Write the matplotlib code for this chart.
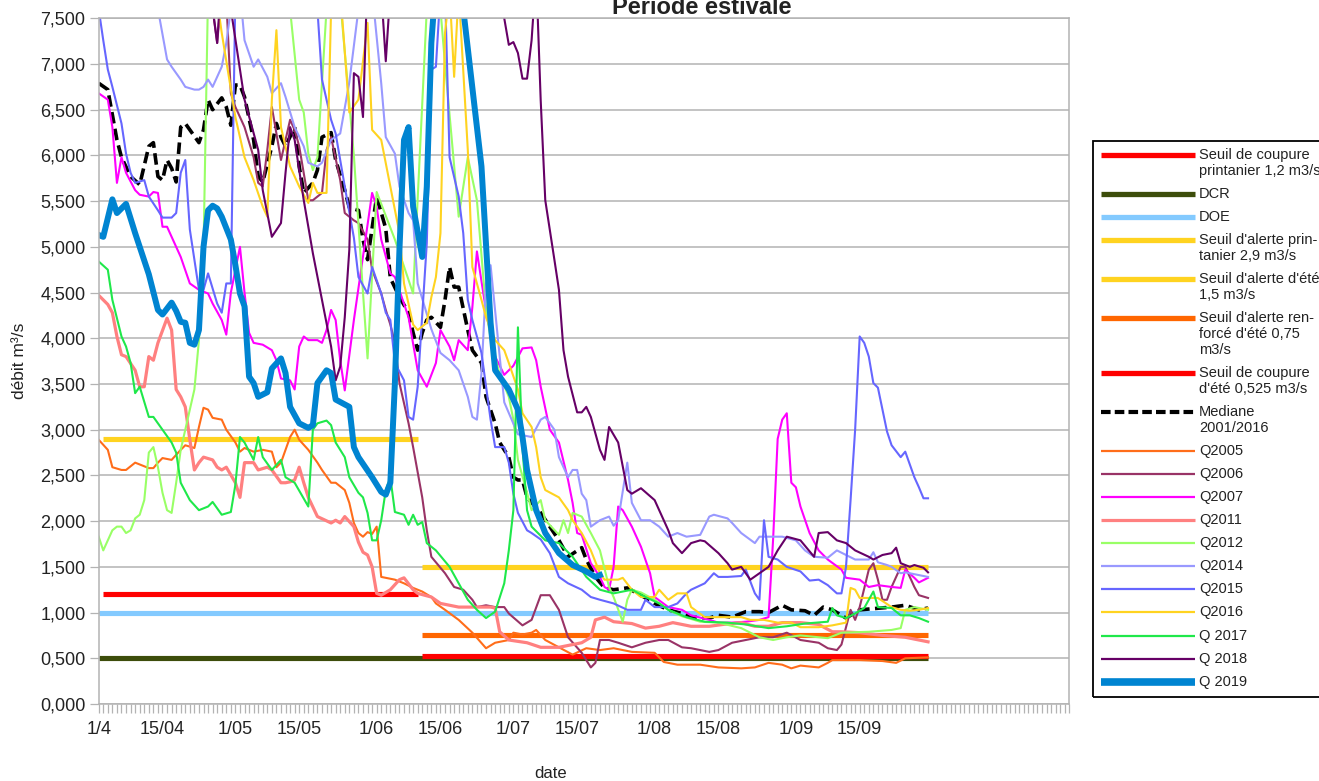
import matplotlib
matplotlib.use("Agg")
import matplotlib.pyplot as plt
from matplotlib.lines import Line2D
from matplotlib.patches import Rectangle

plt.rcParams['font.family'] = ['Liberation Sans', 'DejaVu Sans']

# ---------------- data (day index from 1 April, value in m3/s) ----------------
tick_days = [0, 14, 30, 44, 61, 75, 91, 105, 122, 136, 153, 167]
tick_labels = ['1/4', '15/04', '1/05', '15/05', '1/06', '15/06', '1/07', '15/07',
               '1/08', '15/08', '1/09', '15/09']
y_ticks = [0, 0.5, 1.0, 1.5, 2.0, 2.5, 3.0, 3.5, 4.0, 4.5, 5.0, 5.5, 6.0, 6.5, 7.0, 7.5]

thr_labels = [["Seuil de coupure", "printanier 1,2 m3/s"], ["DCR"], ["DOE"],
              ["Seuil d'alerte prin-", "tanier 2,9 m3/s"], ["Seuil d'alerte d'été", "1,5 m3/s"],
              ["Seuil d'alerte ren-", "forcé d'été 0,75", "m3/s"],
              ["Seuil de coupure", "d'été 0,525 m3/s"]]
thr_values = [1.2, 0.5, 1.0, 2.9, 1.5, 0.75, 0.525]
thr_start = [1, 0, 0, 1, 71, 71, 71]
thr_end = [70, 182, 182, 70, 182, 182, 182]

mediane = [(0,6.79),(2,6.72),(4,6.17),(5,5.98),(7,5.77),(9,5.68),(11,6.10),(12,6.14),(13,5.77),(14,5.73),
           (15,5.95),(16,5.86),(17,5.71),(18,6.31),(19,6.35),(22,6.14),(23,6.28),(24,6.61),(25,6.50),(27,6.63),
           (28,6.53),(29,6.33),(30,6.77),(31,6.77),(32,6.64),(34,6.17),(35,5.77),(36,5.71),(38,6.10),(39,6.35),
           (40,6.20),(41,6.10),(43,6.31),(44,5.88),(45,5.59),(47,5.70),(48,5.84),(49,6.20),(51,6.25),(52,5.95),
           (54,5.62),(55,5.43),(57,5.40),(58,5.08),(59,4.86),(61,5.55),(63,5.20),(64,4.66),(66,4.45),(68,4.28),
           (69,4.06),(70,3.87),(71,4.06),(72,4.20),(73,4.23),(75,4.12),(76,4.42),(77,4.78),(78,4.56),(79,4.56),
           (81,4.09),(82,3.87),(84,3.73),(85,3.36),(87,3.07),(88,2.86),(90,2.70),(91,2.48),(92,2.45),(93,2.45),
           (94,2.26),(97,2.09),(101,1.79),(103,1.61),(106,1.71),(107,1.58),(109,1.39),(111,1.27),(113,1.25),
           (116,1.27),(119,1.19),(122,1.10),(125,1.03),(128,0.99),(130,0.95),(134,0.94),(136,0.97),(139,0.95),
           (142,1.01),(145,1.01),(147,1.00),(150,1.08),(152,1.03),(155,1.02),(157,0.97),(159,1.06),(161,1.03),
           (164,0.94),(167,1.03),(174,1.06),(177,1.08),(180,1.03),(182,1.05)]

q2005 = [(0,2.89),(2,2.78),(3,2.59),(5,2.56),(6,2.56),(8,2.64),(11,2.58),(12,2.58),(13,2.64),(14,2.69),
         (16,2.67),(18,2.78),(19,2.83),(21,2.80),(22,3.03),(23,3.24),(24,3.22),(25,3.13),(27,3.11),(28,3.00),
         (30,2.86),(31,2.76),(32,2.80),(34,2.76),(36,2.78),(38,2.76),(39,2.59),(40,2.64),(42,2.92),(43,3.00),
         (44,2.89),(46,2.78),(48,2.64),(49,2.56),(51,2.42),(52,2.42),(54,2.34),(55,2.20),(56,1.98),(57,1.87),
         (58,1.83),(59,1.88),(60,1.86),(61,1.94),(62,1.39),(65,1.36),(67,1.32),(69,1.27),(71,1.23),(73,1.17),
         (74,1.10),(76,1.03),(79,0.92),(82,0.78),(85,0.61),(87,0.67),(90,0.70),(91,0.78),(93,0.76),(95,0.78),
         (96,0.81),(98,0.70),(101,0.62),(104,0.54),(107,0.61),(110,0.59),(113,0.61),(117,0.57),(122,0.56),
         (124,0.46),(127,0.43),(132,0.43),(136,0.40),(141,0.39),(144,0.40),(147,0.45),(150,0.43),(152,0.39),
         (154,0.42),(158,0.40),(160,0.45),(161,0.48),(163,0.48),(167,0.48),(172,0.47),(175,0.45),(177,0.50),
         (182,0.51)]

q2006 = [(0,9.5),(8,11.0),(16,10.0),(22,8.5),(25,7.6),(26,7.23),(27,7.8),(28,7.7),(29,6.68),(30,6.53),
         (32,6.31),(34,5.98),(35,5.70),(36,5.66),(37,6.06),(38,6.53),(39,6.24),(40,5.95),(42,6.39),(43,6.28),
         (44,6.10),(46,5.51),(47,5.51),(49,5.59),(50,6.06),(51,6.20),(53,5.73),(54,5.37),(56,5.29),(57,5.26),
         (59,5.08),(60,4.75),(62,4.49),(63,4.31),(64,4.15),(65,3.95),(66,3.51),(68,3.07),(69,2.81),(71,2.26),
         (72,1.90),(73,1.61),(76,1.43),(78,1.28),(80,1.25),(82,1.14),(83,1.06),(85,1.08),(87,1.06),(89,1.06),
         (90,0.99),(93,0.86),(95,0.92),(97,1.19),(99,1.19),(101,1.03),(103,0.73),(106,0.56),(108,0.40),
         (109,0.45),(110,0.70),(112,0.70),(114,0.67),(117,0.62),(120,0.67),(123,0.70),(125,0.70),(128,0.62),
         (130,0.61),(134,0.57),(136,0.59),(139,0.67),(142,0.70),(145,0.73),(148,0.73),(151,0.78),(154,0.70),
         (158,0.67),(160,0.61),(162,0.59),(163,0.65),(165,1.03),(166,0.92),(167,1.06),(169,1.47),(170,1.54),
         (171,1.36),(172,1.14),(173,1.14),(174,1.28),(176,1.50),(177,1.50),(179,1.28),(180,1.19),(182,1.16)]

q2007 = [(0,6.68),(2,6.61),(3,6.31),(4,5.70),(5,5.98),(6,5.81),(8,5.62),(9,5.57),(11,5.55),(12,5.60),
         (13,5.59),(14,5.22),(15,5.22),(16,5.11),(18,4.89),(20,4.60),(22,4.53),(24,4.49),(25,4.38),(27,4.20),
         (28,4.04),(29,4.50),(31,5.00),(32,4.50),(33,4.06),(34,3.95),(36,3.93),(38,3.87),(39,3.76),(40,3.56),
         (42,3.54),(43,3.44),(44,3.91),(45,4.02),(46,3.98),(48,3.98),(49,3.95),(50,4.09),(51,4.31),(52,4.20),
         (53,3.76),(54,3.43),(56,4.20),(60,5.59),(61,5.44),(62,5.08),(64,4.71),(65,4.67),(68,4.23),(70,3.65),
         (72,3.47),(74,3.73),(75,4.09),(77,3.91),(78,3.76),(79,3.98),(81,3.87),(82,4.34),(83,4.95),(85,4.30),
         (87,3.80),(89,3.60),(91,3.70),(93,3.89),(95,3.90),(96,3.76),(97,3.47),(99,3.00),(101,2.86),(103,2.45),
         (104,2.20),(105,1.87),(106,1.85),(108,1.54),(110,1.39),(111,1.28),(112,1.25),(113,1.50),(114,2.16),
         (115,2.12),(117,1.94),(119,1.72),(121,1.43),(122,1.17),(125,1.06),(128,1.03),(130,0.97),(134,0.92),
         (136,0.89),(139,0.89),(142,0.90),(145,0.92),(147,0.95),(148,1.80),(149,2.90),(150,3.11),(151,3.18),
         (152,2.42),(153,2.37),(154,2.16),(156,1.87),(158,1.68),(160,1.58),(163,1.47),(164,1.38),(167,1.36),
         (169,1.28),(171,1.30),(174,1.28),(176,1.27),(177,1.47),(179,1.38),(180,1.33),(182,1.38)]

q2011 = [(0,4.47),(2,4.37),(3,4.28),(4,4.02),(5,3.82),(6,3.80),(8,3.65),(9,3.47),(10,3.47),(11,3.80),
         (12,3.76),(13,3.95),(15,4.22),(16,4.09),(17,3.44),(18,3.36),(19,3.25),(20,2.89),(21,2.56),(22,2.64),
         (23,2.70),(25,2.67),(26,2.59),(27,2.56),(28,2.59),(30,2.42),(31,2.26),(32,2.64),(34,2.64),(35,2.56),
         (37,2.59),(38,2.56),(40,2.42),(41,2.42),(42,2.43),(43,2.45),(44,2.59),(45,2.42),(46,2.26),(48,2.05),
         (51,1.98),(52,2.01),(53,1.98),(54,2.05),(56,1.94),(57,1.77),(58,1.66),(59,1.63),(60,1.50),(61,1.21),
         (62,1.19),(64,1.25),(66,1.36),(67,1.38),(69,1.25),(70,1.21),(73,1.17),(75,1.10),(79,1.06),(82,1.06),
         (86,1.06),(87,1.05),(88,0.79),(90,0.70),(94,0.67),(97,0.62),(101,0.62),(106,0.67),(108,0.73),
         (109,0.92),(111,0.95),(113,0.90),(115,0.89),(117,0.88),(120,0.83),(123,0.85),(126,0.89),(130,0.85),
         (134,0.85),(137,0.87),(141,0.89),(144,0.85),(147,0.85),(150,0.89),(154,0.89),(158,0.87),(161,0.79),
         (163,0.79),(167,0.78),(172,0.75),(177,0.73),(180,0.70),(182,0.68)]

q2012 = [(0,1.83),(1,1.68),(3,1.90),(4,1.94),(5,1.94),(6,1.87),(7,1.90),(8,2.03),(9,2.07),(10,2.23),
         (11,2.75),(12,2.81),(13,2.59),(14,2.31),(15,2.12),(16,2.09),(17,2.42),(18,2.78),(20,3.22),(21,3.44),
         (22,3.98),(23,4.97),(24,7.8),(30,9.0),(38,8.5),(42,7.6),(44,6.61),(45,6.47),(46,6.02),(47,5.84),
         (48,5.98),(50,7.6),(53,7.7),(56,6.0),(58,4.5),(59,3.78),(61,5.60),(65,5.08),(69,4.49),(72,7.6),
         (74,8.2),(76,7.0),(79,5.33),(81,5.98),(83,5.51),(85,4.31),(86,4.0),(88,3.6),(90,3.36),(91,3.11),
         (92,2.67),(94,2.31),(95,2.12),(97,2.23),(98,2.01),(101,1.85),(102,2.01),(103,1.87),(104,2.09),
         (106,2.05),(108,1.87),(110,1.68),(112,1.28),(113,1.17),(115,0.90),(116,1.14),(117,1.25),(119,1.22),
         (122,1.14),(125,1.03),(128,0.96),(132,0.90),(136,0.89),(141,0.83),(145,0.73),(148,0.70),(151,0.73),
         (154,0.75),(158,0.73),(160,0.72),(163,0.78),(169,0.79),(174,0.81),(176,0.83),(177,1.03),(179,1.06),
         (182,1.03)]

q2014 = [(0,9.5),(5,9.0),(10,8.5),(13,7.6),(15,7.05),(16,6.97),(18,6.83),(19,6.75),(21,6.72),(22,6.72),
         (23,6.75),(24,6.83),(25,6.75),(27,6.97),(28,7.23),(29,7.6),(31,7.8),(32,7.26),(34,6.97),(35,7.05),
         (37,6.86),(38,6.68),(40,6.79),(41,6.64),(43,6.31),(45,6.10),(46,5.92),(48,5.88),(49,5.92),(51,6.17),
         (53,6.24),(55,6.8),(57,7.6),(60,7.8),(62,6.79),(63,6.20),(65,6.02),(66,5.66),(68,5.37),(69,5.29),
         (70,4.6),(73,4.1),(75,3.84),(77,3.76),(79,3.65),(81,3.36),(82,3.14),(83,3.11),(84,3.62),(85,4.60),
         (86,4.8),(89,3.3),(92,2.95),(95,2.92),(97,3.11),(98,3.14),(100,3.00),(101,2.70),(103,2.48),(104,2.56),
         (105,2.56),(106,2.30),(107,2.23),(108,1.94),(110,2.01),(112,2.05),(113,1.95),(114,2.01),(116,2.64),
         (117,2.20),(119,2.01),(121,2.01),(123,1.94),(125,1.83),(127,1.87),(129,1.83),(132,1.85),(134,2.05),
         (135,2.07),(138,2.03),(139,1.98),(141,1.87),(144,1.76),(145,1.83),(147,1.83),(150,1.83),(153,1.79),
         (155,1.68),(157,1.61),(160,1.60),(162,1.68),(164,1.63),(166,1.58),(169,1.58),(170,1.66),(171,1.55),
         (173,1.52),(174,1.50),(176,1.43),(177,1.44),(180,1.41),(182,1.39)]

q2015 = [(0,7.6),(1,7.26),(2,6.94),(3,6.75),(5,6.35),(6,6.02),(7,5.81),(8,5.70),(10,5.73),(11,5.55),
         (13,5.40),(14,5.32),(16,5.32),(17,5.37),(18,5.81),(19,5.95),(20,5.19),(22,4.53),(23,4.53),(24,4.71),
         (26,4.38),(27,4.28),(28,4.60),(29,4.60),(30,7.8),(35,9.5),(40,10.0),(45,9.0),(47,7.8),(48,7.6),
         (49,6.83),(51,6.39),(52,6.24),(54,5.66),(56,5.10),(57,4.67),(59,4.49),(60,4.78),(62,4.49),(63,4.28),
         (64,4.20),(65,3.73),(67,3.54),(68,3.14),(69,3.11),(70,3.47),(72,5.04),(73,6.94),(74,6.97),(75,7.8),
         (76,7.8),(77,5.98),(79,5.55),(80,5.15),(81,4.42),(82,4.20),(84,3.84),(86,3.11),(87,2.81),(89,2.81),
         (90,2.64),(91,2.30),(92,2.09),(94,1.90),(95,1.87),(97,1.80),(99,1.65),(101,1.39),(103,1.32),(106,1.25),
         (108,1.17),(110,1.14),(113,1.10),(116,1.03),(119,1.03),(120,1.14),(122,1.06),(125,1.06),(127,1.10),
         (129,1.21),(130,1.25),(133,1.32),(135,1.43),(136,1.39),(138,1.39),(141,1.40),(142,1.47),(144,1.21),
         (145,1.14),(146,2.01),(147,1.61),(149,1.58),(151,1.50),(154,1.45),(156,1.35),(158,1.36),(160,1.30),
         (162,1.21),(163,1.21),(164,1.50),(165,2.23),(166,3.00),(167,4.02),(168,3.95),(169,3.80),(170,3.51),
         (171,3.46),(172,3.22),(173,2.98),(174,2.83),(176,2.70),(177,2.76),(179,2.48),(180,2.37),(181,2.25),
         (182,2.25)]

q2016 = [(0,9.5),(5,10.0),(10,9.0),(15,10.5),(20,9.0),(25,8.0),(26,7.7),(27,7.34),(30,6.42),(32,5.98),
         (34,5.73),(36,5.44),(37,5.33),(38,6.61),(39,7.37),(40,6.31),(42,5.88),(44,5.66),(46,5.48),(47,5.70),
         (48,5.59),(50,5.59),(51,7.6),(53,7.8),(55,6.47),(57,6.61),(59,7.45),(60,6.28),(62,6.17),(64,5.66),
         (66,5.15),(67,4.60),(69,4.15),(70,4.09),(72,4.17),(73,4.45),(74,4.67),(75,5.15),(76,7.34),(77,7.8),
         (78,6.86),(79,7.8),(81,6.06),(82,4.78),(84,4.42),(85,4.23),(87,3.98),(89,3.87),(90,3.73),(92,3.44),
         (93,3.18),(95,3.03),(96,2.81),(97,2.48),(98,2.34),(101,2.26),(103,2.12),(104,2.01),(106,1.87),
         (108,1.68),(110,1.43),(111,1.36),(114,1.36),(115,1.38),(117,1.25),(119,1.17),(122,1.17),(123,1.25),
         (125,1.14),(127,1.21),(129,1.21),(130,1.06),(133,0.95),(135,0.95),(138,0.95),(141,0.95),(143,0.92),
         (146,0.92),(149,0.89),(152,0.89),(154,0.84),(158,0.84),(161,0.86),(164,0.89),(165,1.27),(166,1.25),
         (167,1.16),(169,1.16),(171,1.16),(174,1.06),(176,1.03),(178,1.02),(180,1.03),(182,1.05)]

q2017 = [(0,4.84),(2,4.75),(3,4.42),(5,4.02),(6,3.91),(7,3.73),(8,3.40),(9,3.47),(11,3.14),(12,3.14),
         (14,3.00),(16,2.86),(17,2.75),(18,2.42),(20,2.23),(22,2.12),(24,2.16),(25,2.21),(27,2.07),(29,2.10),
         (30,2.40),(31,2.92),(32,2.86),(34,2.67),(35,2.92),(36,2.70),(38,2.56),(40,2.67),(41,2.48),(43,2.42),
         (46,2.16),(47,3.00),(48,3.07),(50,3.10),(51,3.05),(52,2.86),(54,2.70),(55,2.48),(57,2.31),(58,2.26),
         (59,2.09),(60,1.79),(61,1.79),(62,2.01),(63,2.34),(64,2.48),(65,2.10),(67,2.07),(68,1.96),(69,2.07),
         (70,1.96),(71,1.99),(72,1.76),(74,1.68),(77,1.50),(79,1.32),(81,1.14),(83,1.03),(85,0.94),(87,1.01),
         (89,1.32),(90,1.68),(91,2.12),(92,4.12),(93,2.80),(94,2.12),(95,1.94),(98,1.79),(101,1.76),(104,1.61),
         (107,1.39),(110,1.25),(113,1.21),(115,1.23),(117,1.25),(120,1.17),(123,1.10),(125,1.03),(129,0.95),
         (133,0.90),(138,0.89),(142,0.87),(147,0.83),(151,0.85),(155,0.88),(160,0.90),(161,1.05),(162,0.97),
         (164,0.94),(166,0.99),(168,1.05),(169,1.14),(170,1.23),(171,1.06),(174,1.05),(176,0.97),(178,0.97),
         (180,0.94),(182,0.90)]

q2018 = [(0,10.0),(10,12.0),(20,11.0),(24,8.0),(26,7.23),(27,8.0),(28,8.5),(29,7.6),(32,6.61),(35,6.06),
         (36,5.62),(38,5.11),(40,5.26),(41,5.81),(42,6.31),(43,6.17),(45,5.51),(47,4.93),(49,4.42),(51,3.91),
         (52,3.54),(53,3.69),(54,4.23),(55,4.97),(56,6.90),(57,6.86),(58,6.42),(59,8.0),(61,8.5),(62,7.8),
         (63,7.03),(64,7.8),(65,9.0),(70,11.0),(75,13.0),(80,12.0),(85,10.0),(88,8.0),(89,7.5),(90,7.21),
         (91,7.24),(92,7.12),(93,6.84),(94,6.84),(95,7.26),(96,8.0),(97,6.60),(98,5.51),(100,4.86),(101,4.53),
         (102,3.87),(103,3.58),(105,3.19),(106,3.19),(107,3.25),(108,3.14),(110,2.78),(111,2.67),(112,3.03),
         (114,2.86),(116,2.34),(117,2.30),(119,2.36),(122,2.23),(123,2.12),(125,1.90),(126,1.76),(128,1.65),
         (130,1.76),(132,1.79),(133,1.78),(136,1.65),(138,1.54),(139,1.47),(141,1.50),(143,1.36),(145,1.43),
         (147,1.50),(149,1.68),(151,1.83),(154,1.79),(157,1.61),(158,1.87),(160,1.88),(162,1.79),(164,1.76),
         (166,1.68),(169,1.61),(170,1.58),(172,1.63),(174,1.65),(175,1.71),(176,1.54),(178,1.50),(179,1.52),
         (181,1.49),(182,1.44)]

q2019 = [(0,5.13),(1,5.11),(3,5.52),(4,5.37),(6,5.47),(8,5.15),(11,4.70),(13,4.31),(14,4.26),(16,4.39),
         (17,4.30),(18,4.18),(19,4.17),(20,3.95),(21,3.93),(22,4.09),(23,5.00),(24,5.40),(25,5.45),(26,5.42),
         (27,5.33),(29,5.08),(30,4.80),(31,4.49),(32,4.35),(33,3.58),(34,3.51),(35,3.36),(37,3.41),(38,3.67),
         (40,3.78),(41,3.62),(42,3.25),(44,3.07),(46,3.02),(47,3.05),(48,3.51),(50,3.65),(51,3.62),(52,3.33),
         (55,3.25),(56,2.81),(57,2.70),(60,2.48),(62,2.32),(63,2.29),(64,2.42),(65,3.51),(66,4.97),(67,6.17),
         (68,6.31),(69,5.44),(71,4.89),(72,5.66),(73,7.23),(75,8.6),(78,9.0),(80,7.6),(84,5.88),(86,4.17),
         (87,3.65),(90,3.44),(92,3.22),(93,2.92),(94,2.56),(96,2.12),(98,1.87),(101,1.65),(104,1.52),
         (107,1.45),(109,1.39),(110,1.41)]

series_names = ["Mediane 2001/2016", "Q2005", "Q2006", "Q2007", "Q2011", "Q2012", "Q2014",
                "Q2015", "Q2016", "Q 2017", "Q 2018", "Q 2019"]
series_data = [mediane, q2005, q2006, q2007, q2011, q2012, q2014, q2015, q2016, q2017, q2018, q2019]

# ---------------- styles ----------------
thr_colors = ['#ff0000', '#3d4d0b', '#83caff', '#ffd320', '#ffd320', '#ff6600', '#ff0000']
series_styles = [
    dict(color='black', lw=2.6, dashes=(3.2, 1.5)),
    dict(color='#ff6d1a', lw=1.5),
    dict(color='#993366', lw=1.5),
    dict(color='#ff00ff', lw=1.5),
    dict(color='#ff8080', lw=2.3),
    dict(color='#99ff66', lw=1.5),
    dict(color='#9999ff', lw=1.5),
    dict(color='#6666ff', lw=1.5),
    dict(color='#ffd320', lw=1.5),
    dict(color='#1fe84a', lw=1.5),
    dict(color='#660066', lw=1.5),
    dict(color='#0084d1', lw=4.3),
]
series_legend_lines = [["Mediane", "2001/2016"], ["Q2005"], ["Q2006"], ["Q2007"], ["Q2011"],
                       ["Q2012"], ["Q2014"], ["Q2015"], ["Q2016"], ["Q 2017"], ["Q 2018"], ["Q 2019"]]

W, H = 1319, 781
fig = plt.figure(figsize=(W / 100, H / 100), dpi=100)
ax = fig.add_axes([98.7 / W, 1 - 704 / H, (1069.3 - 98.7) / W, (704 - 18.3) / H])

grey = '#b3b3b3'
txt = '#222222'

for v, s, e, c in zip(thr_values, thr_start, thr_end, thr_colors):
    ax.plot([s, e], [v, v], color=c, lw=3.7, solid_capstyle='butt')

for data, st in zip(series_data, series_styles):
    xs = [d for d, _ in data]
    ys = [v for _, v in data]
    ax.plot(xs, ys, solid_joinstyle='round', **st)

ax.set_xlim(0, 213)
ax.set_ylim(0, 7.5)
ax.set_yticks(y_ticks)
ax.set_yticklabels([f"{v:.3f}".replace('.', ',') for v in y_ticks])
ax.set_xticks(tick_days)
ax.set_xticklabels(tick_labels)
ax.set_xticks(list(range(0, 214)), minor=True)
ax.yaxis.grid(True, color=grey, lw=1.1)
ax.set_axisbelow(True)
for sp in ax.spines.values():
    sp.set_color(grey)
    sp.set_linewidth(1.1)
ax.tick_params(axis='both', which='both', direction='out', length=6.5, width=0.9, color=grey,
               labelsize=13, labelcolor=txt)
ax.tick_params(axis='x', which='major', pad=6)
ax.tick_params(axis='y', which='major', pad=3)

# titles / axis labels
fig.text(702 / W, 1 - 13.5 / H, "Période estivale", ha='center', va='baseline',
         fontsize=17, fontweight='bold', color=txt)
fig.text(20 / W, 1 - 361 / H, "débit m³/s", rotation=90, ha='center', va='center',
         fontsize=12.5, color=txt)
fig.text(551 / W, 1 - 773 / H, "date", ha='center', va='center', fontsize=12, color=txt)

# ---------------- legend (drawn manually) ----------------
box = Rectangle((1093 / W, 1 - 697 / H), (1340 - 1093) / W, (697 - 141) / H,
                transform=fig.transFigure, fill=False, edgecolor='black', lw=1.3)
fig.patches.append(box)

entries = []
for lab, c in zip(thr_labels, thr_colors):
    entries.append((lab, dict(color=c, lw=3.8)))
leg_styles = [dict(color='black', lw=3.0, dashes=(2.3, 1.0))] + \
             [dict(color=st['color'], lw=st['lw'] if st['lw'] > 2 else 1.6) for st in series_styles[1:]]
leg_styles[-1] = dict(color='#0084d1', lw=5.5)
for lab, st in zip(series_legend_lines, leg_styles):
    entries.append((lab, st))

y = 155.3
for lines, st in entries:
    fig.add_artist(Line2D([1101 / W, 1195 / W], [1 - y / H, 1 - y / H],
                          transform=fig.transFigure, solid_capstyle='butt', **st))
    for i, line in enumerate(lines):
        fig.text(1199 / W, 1 - (y + 15.8 * i) / H, line, ha='left', va='center',
                 fontsize=10.5, color=txt)
    y += 23.1 + 15.8 * (len(lines) - 1)

fig.savefig("out.png", dpi=100)
